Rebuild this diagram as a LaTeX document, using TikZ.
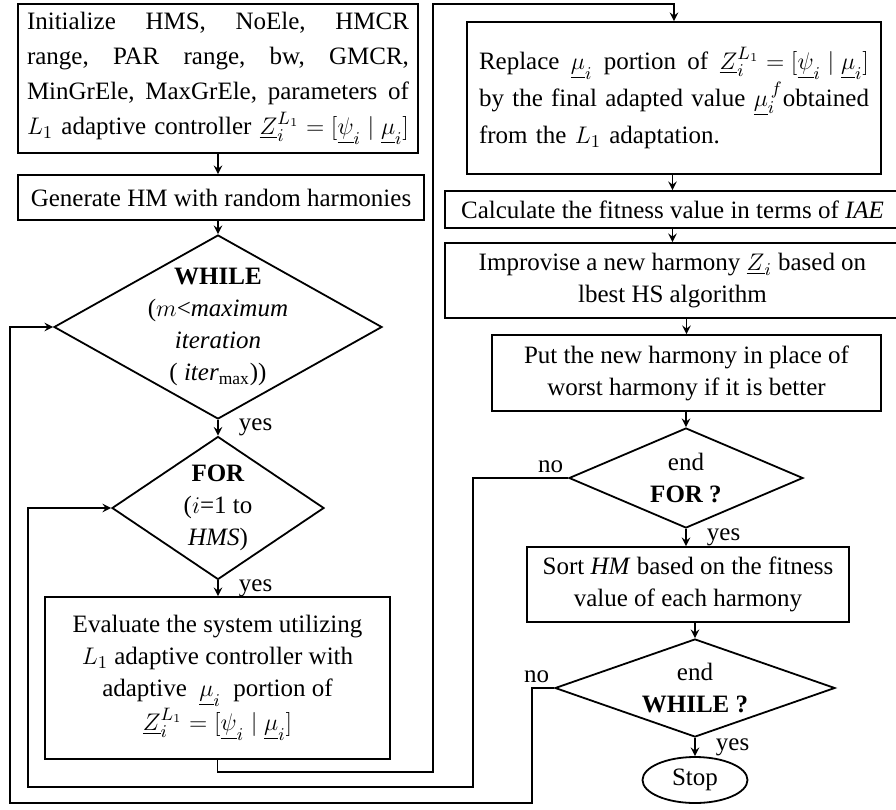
\documentclass[tikz,border=0pt]{standalone}
\usepackage{fontspec}
\setmainfont{Liberation Serif}
\usetikzlibrary{shapes.geometric}
\newcommand{\Zvec}{\underline{Z}_i^{L_1}=[\underline{\psi}_i\mid\underline{\mu}_i]}

\begin{document}
\begin{tikzpicture}[x=0.5pt,y=-0.5pt,>=stealth,line width=0.9pt,
 every node/.style={font=\fontsize{12.5}{16}\selectfont},
 box/.style={draw,rectangle,inner sep=0pt,align=center},
 cond/.style={draw,diamond,inner sep=0pt},
 yeslbl/.style={inner sep=1pt,right=9pt,midway},
 nolbl/.style={inner sep=2pt,above left}]
 \clip (0,0) rectangle (896,810);
 % left column
 \node[box,minimum width=200pt,minimum height=74.5pt,text width=191pt,align=left,
  font=\fontsize{12.5}{17.5}\selectfont] (init) at (218,78.5)
  {\makebox[191pt][l]{Initialize\hfill HMS,\hfill NoEle,\hfill HMCR}\\
   \makebox[191pt][l]{range,\hfill PAR\hfill range,\hfill bw,\hfill GMCR,}\\
   \makebox[191pt][l]{MinGrEle,\hfill MaxGrEle,\hfill parameters\hfill of}\\
   \makebox[191pt][l]{$L_1$\hfill adaptive\hfill controller\hfill $\Zvec$}};
 \node[box,minimum width=203pt,minimum height=22.5pt] (gen) at (221,197.5)
  {Generate HM with random harmonies};
 \node[cond,minimum width=164pt,minimum height=92pt,
  label={[align=center]center:\textbf{WHILE}\\ ($m$<\textit{maximum}\\ \textit{iteration}\\ ( $\mathit{iter}_{\max}$))}]
  (while) at (218,327) {};
 \node[cond,minimum width=106pt,minimum height=71.5pt,
  label={[align=center]center:\textbf{FOR}\\ ($i$=1 to\\ \textit{HMS})}]
  (for) at (218,508) {};
 \node[box,minimum width=172.5pt,minimum height=81pt] (eval) at (217.5,678)
  {Evaluate the system utilizing\\ $L_1$ adaptive controller with\\
   adaptive \ $\underline{\mu}_i$ \ portion of\\ $\Zvec$};
 % right column
 \node[box,minimum width=207pt,minimum height=76pt,text width=195pt,align=left,
  font=\fontsize{12.5}{18.5}\selectfont] (repl) at (674,98)
  {\makebox[195pt][l]{Replace\hfill $\underline{\mu}_i$\hfill portion\hfill of\hfill $\Zvec$}\\
   \makebox[195pt][l]{by\hfill the\hfill final\hfill adapted\hfill value\hfill $\underline{\mu}_i^{\,f}$obtained}\\
   from the $L_1$ adaptation.};
 \node[box,minimum width=227.5pt,minimum height=18.5pt] (calc) at (672.5,209.5)
  {Calculate the fitness value in terms of \textit{IAE}};
 \node[box,minimum width=227.5pt,minimum height=37.5pt] (impr) at (672.5,280.5)
  {Improvise a new harmony $\underline{Z}_i$ based on\\ lbest HS algorithm};
 \node[box,minimum width=194.5pt,minimum height=38pt] (put) at (686.5,373)
  {Put the new harmony in place of\\ worst harmony if it is better};
 \node[cond,minimum width=117pt,minimum height=50pt,
  label={[align=center]center:end\\ \textbf{FOR ?}}] (endfor) at (686,478) {};
 \node[box,minimum width=161pt,minimum height=37.5pt] (sort) at (688,584.5)
  {Sort \textit{HM} based on the fitness\\ value of each harmony};
 \node[cond,minimum width=140pt,minimum height=49pt,
  label={[align=center]center:end\\ \textbf{WHILE ?}}] (endwhile) at (695,688) {};
 \node[draw,ellipse,inner sep=0pt,minimum width=52.5pt,minimum height=23pt] (stop) at (695,780) {Stop};
 % connectors
 \coordinate (e1) at (433,772);
 \coordinate (e2) at (433,4);
 \coordinate (f1) at (473,787);
 \coordinate (f2) at (28,787);
 \coordinate (w1) at (532,803);
 \coordinate (w2) at (10,803);
 \draw[->] (init.south) -- (init.south |- gen.north);
 \draw[->] (while.north |- gen.south) -- (while.north);
 \draw[->] (while.south) -- (for.north) node[yeslbl] {yes};
 \draw[->] (for.south) -- (for.south |- eval.north) node[yeslbl] {yes};
 \draw[->] (eval.south) |- (e1) -- (e2) -| (repl.north);
 \draw[->] (repl.south -| calc.north) -- (calc.north);
 \draw[->] (calc.south) -- (impr.north);
 \draw[->] (put.north |- impr.south) -- (put.north);
 \draw[->] (put.south -| endfor.north) -- (endfor.north);
 \draw[->] (endfor.south) -- (endfor.south |- sort.north) node[yeslbl] {yes};
 \draw[->] (sort.south -| endwhile.north) -- (endwhile.north);
 \draw[->] (endwhile.south) -- (stop.north) node[yeslbl] {yes};
 \draw[->] (endfor.west) node[nolbl] {no} -| (f1) -- (f2) |- (for.west);
 \draw[->] (endwhile.west) node[nolbl] {no} -| (w1) -- (w2) |- (while.west);
\end{tikzpicture}
\end{document}
